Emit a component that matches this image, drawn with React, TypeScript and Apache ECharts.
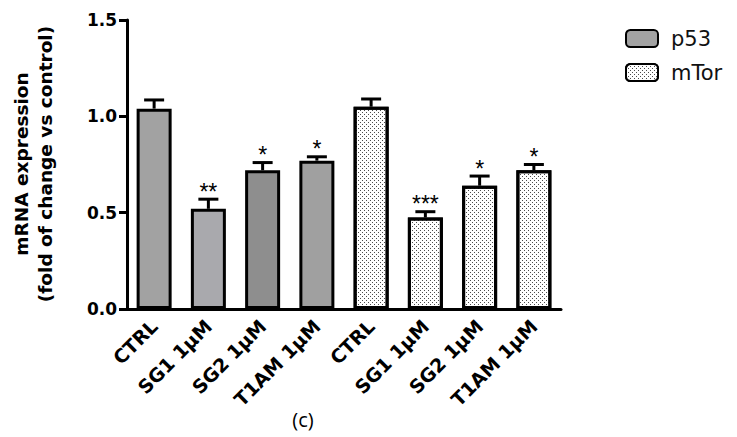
import React, { useEffect, useRef } from "react";
import * as echarts from "echarts";

const categories = ["CTRL", "SG1 1µM", "SG2 1µM", "T1AM 1µM", "CTRL", "SG1 1µM", "SG2 1µM", "T1AM 1µM"];
const p53Values = [1.04, 0.52, 0.72, 0.77];
const p53Errors = [0.045, 0.05, 0.04, 0.02];
const mtorValues = [1.05, 0.475, 0.64, 0.72];
const mtorErrors = [0.04, 0.03, 0.05, 0.03];
const stars = ["", "**", "*", "*", "", "***", "*", "*"];
const p53Colors = ["#a2a2a2", "#a9a9ad", "#8e8e8e", "#a0a0a0"];
const yTicks = [0, 0.5, 1.0, 1.5];

export default function App() {
  const ref = useRef<HTMLDivElement>(null);
  useEffect(() => {
    const chart = echarts.init(ref.current!, null, { renderer: "svg" });
    const n = categories.length;
    const p53Data: any[] = [];
    const mtorData: any[] = [];
    for (let i = 0; i < n; i++) {
      if (i < 4) {
        p53Data.push({ value: p53Values[i], itemStyle: { color: p53Colors[i] } });
        mtorData.push("-");
      } else {
        p53Data.push("-");
        mtorData.push(mtorValues[i - 4]);
      }
    }
    const allValues = [...p53Values, ...mtorValues];
    const allErrors = [...p53Errors, ...mtorErrors];
    const errData = allValues.map((v, i) => [i, v, allErrors[i]]);

    const option: any = {
      animation: false,
      grid: { left: 127, right: 176, top: 20, bottom: 128 },
      legend: {
        left: 625,
        top: 28,
        padding: 0,
        orient: "vertical",
        itemWidth: 32,
        itemHeight: 17,
        itemGap: 13,
        icon: "roundRect",
        textStyle: { fontFamily: "DejaVu Sans", fontSize: 21, color: "#111", padding: [0, 0, 0, 8] },
        data: ["p53", "mTor"],
      },
      xAxis: {
        type: "category",
        data: categories,
        axisLine: { lineStyle: { color: "#000", width: 3 } },
        axisTick: { alignWithLabel: true, length: 7, lineStyle: { color: "#000", width: 3 } },
        axisLabel: {
          rotate: 45,
          interval: 0,
          margin: 14,
          fontFamily: "DejaVu Sans",
          fontWeight: "bold",
          fontSize: 19,
          color: "#000",
        },
      },
      yAxis: {
        type: "value",
        min: 0,
        max: 1.5,
        interval: 0.5,
        splitLine: { show: false },
        axisLine: { show: true, lineStyle: { color: "#000", width: 3 } },
        axisTick: { show: true, length: 8, lineStyle: { color: "#000", width: 3 } },
        axisLabel: {
          margin: 10,
          fontFamily: "DejaVu Sans",
          fontWeight: "bold",
          fontSize: 17,
          color: "#000",
          formatter: (v: number) => (yTicks.includes(v) ? v.toFixed(1) : ""),
        },
      },
      series: [
        {
          name: "p53",
          type: "bar",
          data: p53Data,
          barWidth: 35,
          barGap: "-100%",
          itemStyle: { color: "#a2a2a2", borderColor: "#000", borderWidth: 3 },
        },
        {
          name: "mTor",
          type: "bar",
          data: mtorData,
          barWidth: 35,
          barGap: "-100%",
          itemStyle: {
            color: "#ffffff",
            borderColor: "#000",
            borderWidth: 3,
            decal: {
              symbol: "rect",
              symbolSize: 1,
              color: "rgba(0,0,0,0.7)",
              dashArrayX: [[1, 3], [0, 2, 1, 1]],
              dashArrayY: [1, 1],
            },
          },
        },
        {
          type: "custom",
          z: 3,
          data: errData,
          renderItem: (params: any, api: any) => {
            const x = api.value(0);
            const v = api.value(1);
            const e = api.value(2);
            const base = api.coord([x, v]);
            const top = api.coord([x, v + e]);
            const children: any[] = [
              { type: "line", shape: { x1: base[0], y1: base[1], x2: top[0], y2: top[1] }, style: { stroke: "#000", lineWidth: 3 } },
              { type: "line", shape: { x1: top[0] - 10, y1: top[1], x2: top[0] + 10, y2: top[1] }, style: { stroke: "#000", lineWidth: 3 } },
            ];
            const s = stars[params.dataIndex];
            if (s) {
              children.push({
                type: "text",
                x: top[0],
                y: top[1] + 4,
                style: {
                  text: s,
                  align: "center",
                  verticalAlign: "bottom",
                  fontFamily: "Liberation Sans",
                  fontSize: 23,
                  fill: "#000",
                },
              });
            }
            return { type: "group", children };
          },
        },
      ],
      graphic: [
        {
          type: "text",
          x: 33,
          y: 164,
          rotation: Math.PI / 2,
          style: {
            text: "mRNA expression\n(fold of change vs control)",
            align: "center",
            verticalAlign: "middle",
            fontFamily: "DejaVu Sans",
            fontWeight: "bold",
            fontSize: 18.5,
            lineHeight: 24,
            fill: "#000",
          },
        },
        {
          type: "text",
          x: 303,
          y: 419,
          style: {
            text: "(c)",
            align: "center",
            verticalAlign: "middle",
            fontFamily: "Open Sans",
            fontSize: 20,
            fill: "#000",
          },
        },
      ],
    };
    chart.setOption(option);
    return () => chart.dispose();
  }, []);
  return <div ref={ref} style={{ width: 737, height: 437, position: "absolute", left: 0, top: 0 }} />;
}
